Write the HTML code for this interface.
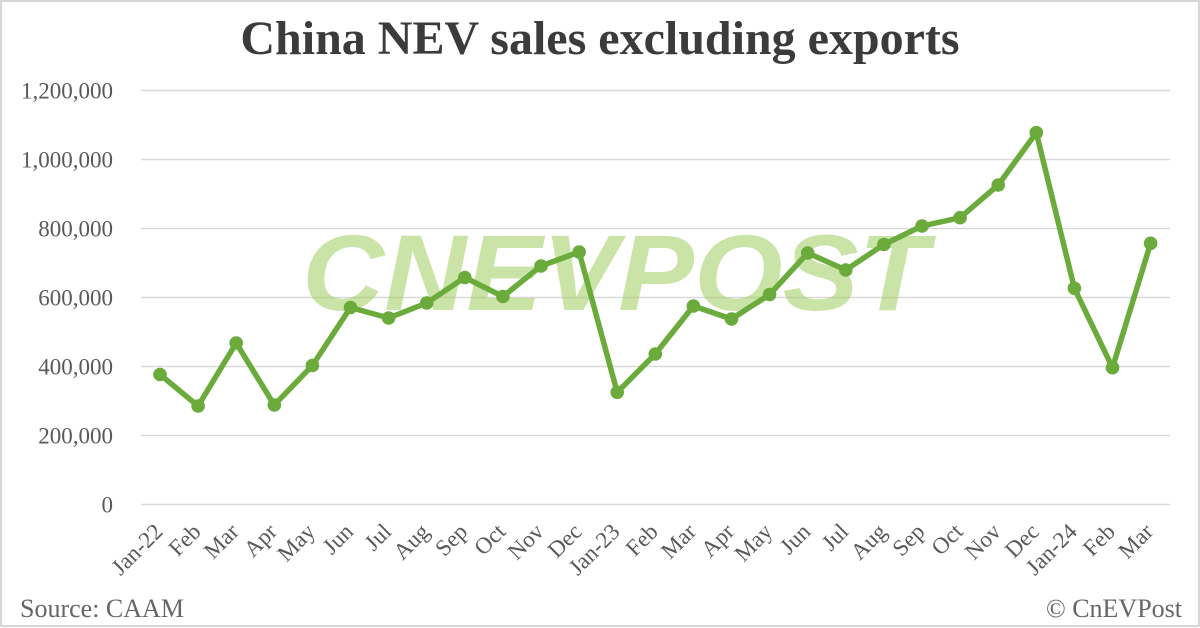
<!DOCTYPE html>
<html>
<head>
<meta charset="utf-8">
<style>
  html,body{margin:0;padding:0;background:#fff;}
  svg{display:block;}
</style>
</head>
<body>
<svg width="1200" height="628" viewBox="0 0 1200 628" xmlns="http://www.w3.org/2000/svg">
  <rect x="0" y="0" width="1200" height="628" fill="#ffffff"/>
  <rect x="1" y="1" width="1198" height="625" fill="none" stroke="#d6d6d6" stroke-width="2"/>

  <!-- Title -->
  <text x="600" y="54" text-anchor="middle" font-family="'Liberation Serif', serif" font-weight="bold" font-size="48" fill="#3b3b3b">China NEV sales excluding exports</text>

  <!-- Gridlines -->
  <g stroke="#d9d9d9" stroke-width="1.6">
    <line x1="141" y1="504.5" x2="1170" y2="504.5"/>
    <line x1="141" y1="435.5" x2="1170" y2="435.5"/>
    <line x1="141" y1="366.5" x2="1170" y2="366.5"/>
    <line x1="141" y1="297.5" x2="1170" y2="297.5"/>
    <line x1="141" y1="228.5" x2="1170" y2="228.5"/>
    <line x1="141" y1="159.5" x2="1170" y2="159.5"/>
    <line x1="141" y1="90.5" x2="1170" y2="90.5"/>
  </g>

  <!-- Y labels -->
  <g font-family="'Liberation Serif', serif" font-size="23" fill="#595959" text-anchor="end">
    <text x="113" y="512.5">0</text>
    <text x="113" y="443.5">200,000</text>
    <text x="113" y="374.5">400,000</text>
    <text x="113" y="305.5">600,000</text>
    <text x="113" y="236.5">800,000</text>
    <text x="113" y="167.5">1,000,000</text>
    <text x="113" y="98.5">1,200,000</text>
  </g>

  <!-- Watermark -->
  <text x="302" y="310" font-family="'Liberation Sans', sans-serif" font-weight="bold" font-style="italic" font-size="108" fill="#9fcc5c" fill-opacity="0.55" textLength="626" lengthAdjust="spacingAndGlyphs">CNEVPOST</text>

  <!-- Series line -->
  <polyline fill="none" stroke="#6aab3c" stroke-width="5.5" stroke-linejoin="round" stroke-linecap="round"
    points="160,374.5 198.1,406 236.2,343 274.3,405 312.4,365.5 350.5,307.5 388.6,318 426.7,303 464.8,277.5 502.9,296.5 541,266 579.1,252 617.2,392.3 655.3,354 693.4,306 731.5,319 769.6,294.5 807.7,253 845.8,270 883.9,244.5 922,226 960.1,217.7 998.2,185 1036.3,132.7 1074.4,288.3 1112.5,367.7 1150.6,243.3"/>

  <!-- Markers -->
  <g fill="#6aab3c">
    <circle cx="160" cy="374.5" r="6.8"/>
    <circle cx="198.1" cy="406" r="6.8"/>
    <circle cx="236.2" cy="343" r="6.8"/>
    <circle cx="274.3" cy="405" r="6.8"/>
    <circle cx="312.4" cy="365.5" r="6.8"/>
    <circle cx="350.5" cy="307.5" r="6.8"/>
    <circle cx="388.6" cy="318" r="6.8"/>
    <circle cx="426.7" cy="303" r="6.8"/>
    <circle cx="464.8" cy="277.5" r="6.8"/>
    <circle cx="502.9" cy="296.5" r="6.8"/>
    <circle cx="541" cy="266" r="6.8"/>
    <circle cx="579.1" cy="252" r="6.8"/>
    <circle cx="617.2" cy="392.3" r="6.8"/>
    <circle cx="655.3" cy="354" r="6.8"/>
    <circle cx="693.4" cy="306" r="6.8"/>
    <circle cx="731.5" cy="319" r="6.8"/>
    <circle cx="769.6" cy="294.5" r="6.8"/>
    <circle cx="807.7" cy="253" r="6.8"/>
    <circle cx="845.8" cy="270" r="6.8"/>
    <circle cx="883.9" cy="244.5" r="6.8"/>
    <circle cx="922" cy="226" r="6.8"/>
    <circle cx="960.1" cy="217.7" r="6.8"/>
    <circle cx="998.2" cy="185" r="6.8"/>
    <circle cx="1036.3" cy="132.7" r="6.8"/>
    <circle cx="1074.4" cy="288.3" r="6.8"/>
    <circle cx="1112.5" cy="367.7" r="6.8"/>
    <circle cx="1150.6" cy="243.3" r="6.8"/>
  </g>

  <!-- X labels -->
  <g font-family="'Liberation Serif', serif" font-size="23" fill="#595959" text-anchor="end">
    <text transform="translate(164,533) rotate(-45)">Jan-22</text>
    <text transform="translate(202.1,533) rotate(-45)">Feb</text>
    <text transform="translate(240.2,533) rotate(-45)">Mar</text>
    <text transform="translate(278.3,533) rotate(-45)">Apr</text>
    <text transform="translate(316.4,533) rotate(-45)">May</text>
    <text transform="translate(354.5,533) rotate(-45)">Jun</text>
    <text transform="translate(392.6,533) rotate(-45)">Jul</text>
    <text transform="translate(430.7,533) rotate(-45)">Aug</text>
    <text transform="translate(468.8,533) rotate(-45)">Sep</text>
    <text transform="translate(506.9,533) rotate(-45)">Oct</text>
    <text transform="translate(545,533) rotate(-45)">Nov</text>
    <text transform="translate(583.1,533) rotate(-45)">Dec</text>
    <text transform="translate(621.2,533) rotate(-45)">Jan-23</text>
    <text transform="translate(659.3,533) rotate(-45)">Feb</text>
    <text transform="translate(697.4,533) rotate(-45)">Mar</text>
    <text transform="translate(735.5,533) rotate(-45)">Apr</text>
    <text transform="translate(773.6,533) rotate(-45)">May</text>
    <text transform="translate(811.7,533) rotate(-45)">Jun</text>
    <text transform="translate(849.8,533) rotate(-45)">Jul</text>
    <text transform="translate(887.9,533) rotate(-45)">Aug</text>
    <text transform="translate(926,533) rotate(-45)">Sep</text>
    <text transform="translate(964.1,533) rotate(-45)">Oct</text>
    <text transform="translate(1002.2,533) rotate(-45)">Nov</text>
    <text transform="translate(1040.3,533) rotate(-45)">Dec</text>
    <text transform="translate(1078.4,533) rotate(-45)">Jan-24</text>
    <text transform="translate(1116.5,533) rotate(-45)">Feb</text>
    <text transform="translate(1154.6,533) rotate(-45)">Mar</text>
  </g>

  <!-- Footer -->
  <text x="20" y="617" font-family="'Liberation Serif', serif" font-size="26" fill="#666666">Source: CAAM</text>
  <text x="1182" y="617" text-anchor="end" font-family="'Liberation Serif', serif" font-size="26" fill="#666666">© CnEVPost</text>
</svg>
</body>
</html>
